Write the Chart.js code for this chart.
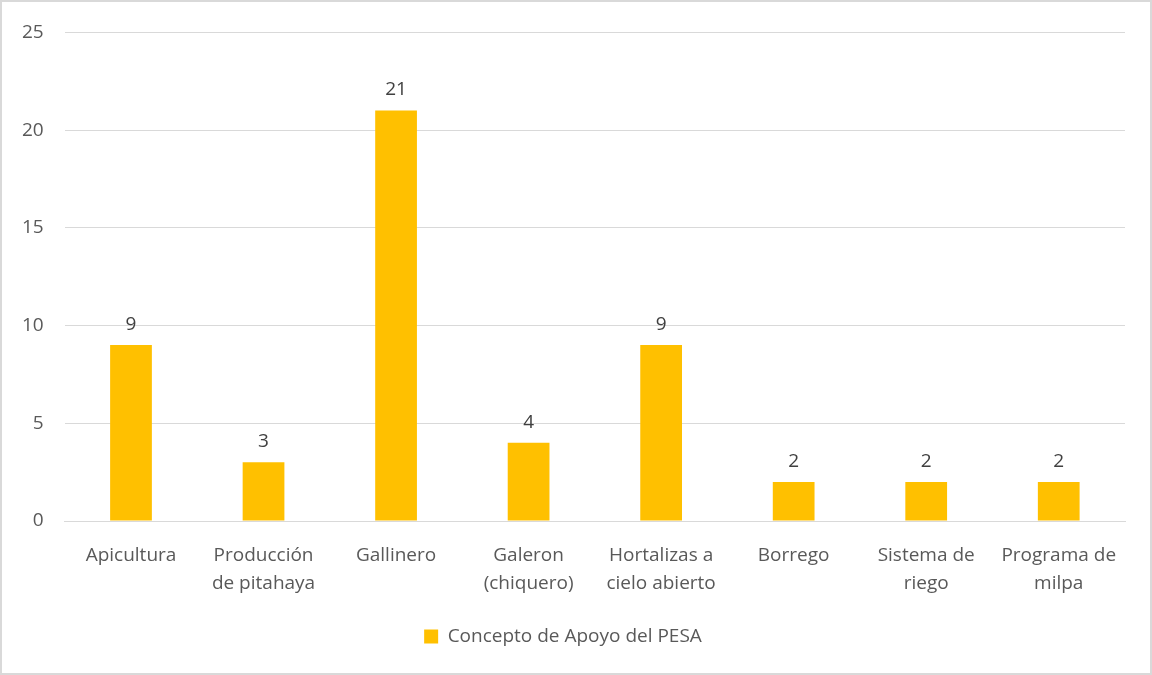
<!DOCTYPE html>
<html>
<head>
<meta charset="utf-8">
<script src="https://cdn.jsdelivr.net/npm/chart.js@4/dist/chart.umd.min.js"></script>
<style>
  html, body { margin: 0; padding: 0; background: #fff; }
  #wrap { position: relative; width: 1152px; height: 675px; box-sizing: border-box; border: 2px solid #d9d9d9; }
  #myChart { position: absolute; left: -2px; top: -2px; }
</style>
</head>
<body>
<div id="wrap"><canvas id="myChart" width="1152" height="675"></canvas></div>
<script>
const categories = [
  'Apicultura',
  ['Producción', 'de pitahaya'],
  'Gallinero',
  ['Galeron', '(chiquero)'],
  ['Hortalizas a', 'cielo abierto'],
  'Borrego',
  ['Sistema de', 'riego'],
  ['Programa de', 'milpa'],
];
const seriesLabel = 'Concepto de Apoyo del PESA';
const seriesValues = [9, 3, 21, 4, 9, 2, 2, 2];
const yTicks = [0, 5, 10, 15, 20, 25];

const fontFamily = '"Open Sans", Calibri, sans-serif';
const fontSize = 19;

// draw the value above every bar
const barValueLabels = {
  id: 'barValueLabels',
  afterDatasetsDraw(chart) {
    const ctx = chart.ctx;
    const meta = chart.getDatasetMeta(0);
    ctx.save();
    ctx.fillStyle = '#404040';
    ctx.font = fontSize + 'px ' + fontFamily;
    ctx.textAlign = 'center';
    ctx.textBaseline = 'bottom';
    meta.data.forEach((bar, i) => {
      ctx.fillText(String(seriesValues[i]), bar.x, bar.y - 11);
    });
    ctx.restore();
  },
};

const myBarChart = new Chart('myChart', {
  type: 'bar',
  data: {
    labels: categories,
    datasets: [
      {
        label: seriesLabel,
        data: seriesValues,
        backgroundColor: '#FFC000',
        borderWidth: 0,
        barPercentage: 0.63,
        categoryPercentage: 0.5,
      },
    ],
  },
  options: {
    responsive: false,
    animation: false,
    layout: { padding: { top: 18, right: 27, left: 1, bottom: 19 } },
    plugins: {
      tooltip: { enabled: false },
      legend: {
        position: 'bottom',
        labels: {
          color: '#595959',
          font: { family: fontFamily, size: fontSize },
          boxWidth: 14,
          boxHeight: 14,
          padding: 9,
        },
      },
    },
    scales: {
      x: {
        grid: { display: false, drawTicks: false },
        border: { color: '#d9d9d9', width: 1 },
        ticks: {
          color: '#595959',
          font: { family: fontFamily, size: fontSize, lineHeight: 1.5 },
          maxRotation: 0,
          autoSkip: false,
          padding: 20,
        },
      },
      y: {
        min: 0,
        max: 25,
        afterBuildTicks(axis) {
          axis.ticks = yTicks.map(v => ({ value: v }));
        },
        grid: { color: '#d9d9d9', drawTicks: false },
        border: { display: false },
        ticks: {
          color: '#595959',
          font: { family: fontFamily, size: fontSize },
          padding: 21,
        },
      },
    },
  },
  plugins: [barValueLabels],
});
</script>
</body>
</html>
